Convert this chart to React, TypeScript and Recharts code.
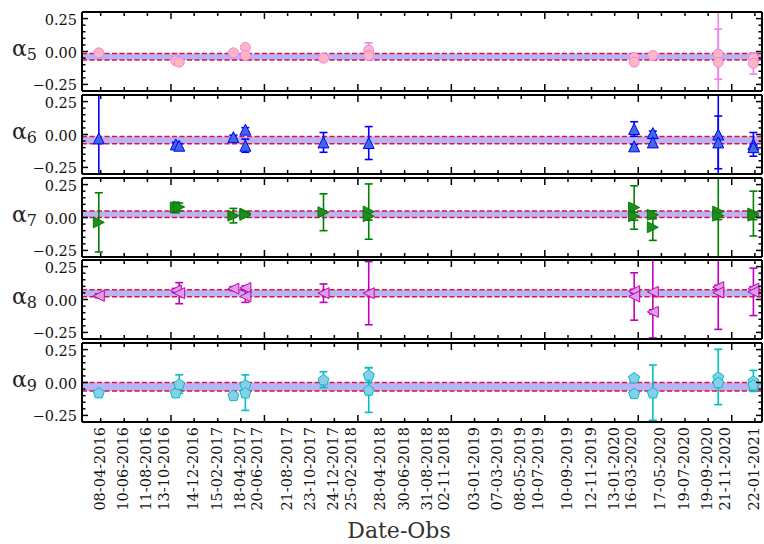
import React from 'react';
import {
  ScatterChart,
  Scatter,
  XAxis,
  YAxis,
  ErrorBar,
  ReferenceArea,
  ReferenceLine,
} from 'recharts';

// date tick labels along the shared x axis (DD-MM-YYYY)
const dateTicks = [
  '08-04-2016', '10-06-2016', '11-08-2016', '13-10-2016', '14-12-2016',
  '15-02-2017', '18-04-2017', '20-06-2017', '21-08-2017', '23-10-2017',
  '24-12-2017', '25-02-2018', '28-04-2018', '30-06-2018', '31-08-2018',
  '02-11-2018', '03-01-2019', '07-03-2019', '08-05-2019', '10-07-2019',
  '10-09-2019', '12-11-2019', '13-01-2020', '16-03-2020', '17-05-2020',
  '19-07-2020', '19-09-2020', '21-11-2020', '22-01-2021',
];

const yMajor = [-0.25, 0, 0.25];
const yMinor = [-0.2, -0.15, -0.1, -0.05, 0.05, 0.1, 0.15, 0.2];

// alpha_5
const a5Dates = ['03-04-2016', '26-10-2016', '04-11-2016', '29-03-2017', '30-04-2017', '30-04-2017', '25-11-2017', '26-03-2018', '26-03-2018', '05-03-2020', '05-03-2020', '24-04-2020', '16-10-2020', '16-10-2020', '18-01-2021', '18-01-2021'];
const a5Vals = [-0.01, -0.071, -0.081, -0.01, 0.031, -0.03, -0.051, 0.01, -0.03, -0.046, -0.081, -0.03, -0.02, -0.081, -0.051, -0.091];
const a5Errs = [0.015, 0.015, 0.015, 0.015, 0.015, 0.015, 0.015, 0.055, 0.02, 0.015, 0.015, 0.015, 0.19, 0.5, 0.02, 0.08];

// alpha_6
const a6Dates = ['03-04-2016', '26-10-2016', '04-11-2016', '29-03-2017', '30-04-2017', '30-04-2017', '25-11-2017', '26-03-2018', '05-03-2020', '05-03-2020', '24-04-2020', '24-04-2020', '16-10-2020', '16-10-2020', '18-01-2021', '18-01-2021'];
const a6Vals = [-0.03, -0.075, -0.085, -0.02, 0.037, -0.085, -0.06, -0.065, 0.042, -0.09, 0.011, -0.06, 0.0, -0.06, -0.075, -0.096];
const a6Errs = [0.5, 0.015, 0.015, 0.015, 0.015, 0.05, 0.075, 0.125, 0.055, 0.015, 0.015, 0.03, 0.5, 0.2, 0.09, 0.02];

// alpha_7
const a7Dates = ['03-04-2016', '26-10-2016', '04-11-2016', '29-03-2017', '30-04-2017', '30-04-2017', '25-11-2017', '26-03-2018', '26-03-2018', '05-03-2020', '05-03-2020', '24-04-2020', '24-04-2020', '16-10-2020', '16-10-2020', '18-01-2021', '18-01-2021'];
const a7Vals = [-0.037, 0.076, 0.08, 0.014, 0.03, 0.02, 0.04, 0.045, 0.01, 0.076, 0.01, 0.02, -0.074, 0.045, 0.014, 0.03, 0.014];
const a7Errs = [0.225, 0.04, 0.03, 0.055, 0.015, 0.015, 0.14, 0.21, 0.03, 0.165, 0.03, 0.03, 0.1, 0.5, 0.03, 0.17, 0.03];

// alpha_8
const a8Dates = ['03-04-2016', '26-10-2016', '04-11-2016', '29-03-2017', '30-04-2017', '30-04-2017', '25-11-2017', '26-03-2018', '05-03-2020', '05-03-2020', '24-04-2020', '24-04-2020', '16-10-2020', '16-10-2020', '18-01-2021', '18-01-2021'];
const a8Vals = [0.028, 0.069, 0.048, 0.083, 0.088, 0.023, 0.048, 0.048, 0.063, 0.023, 0.058, -0.094, 0.094, 0.053, 0.083, 0.058];
const a8Errs = [0.015, 0.015, 0.08, 0.015, 0.015, 0.045, 0.07, 0.24, 0.015, 0.18, 0.35, 0.015, 0.015, 0.28, 0.015, 0.18];

// alpha_9
const a9Dates = ['03-04-2016', '26-10-2016', '04-11-2016', '29-03-2017', '30-04-2017', '30-04-2017', '25-11-2017', '26-03-2018', '26-03-2018', '05-03-2020', '05-03-2020', '24-04-2020', '16-10-2020', '16-10-2020', '18-01-2021', '18-01-2021'];
const a9Vals = [-0.077, -0.077, -0.012, -0.097, -0.017, -0.077, 0.022, 0.057, -0.057, 0.037, -0.082, -0.077, 0.042, 0.0, 0.012, -0.017];
const a9Errs = [0.015, 0.015, 0.07, 0.015, 0.015, 0.135, 0.06, 0.055, 0.17, 0.015, 0.015, 0.21, 0.21, 0.015, 0.08, 0.015];

// mean +/- spread band for each coefficient
const bandLow = [-0.065, -0.07, 0.0, 0.02, -0.065];
const bandHigh = [-0.015, -0.015, 0.05, 0.075, 0.0];
const subscripts = ['5', '6', '7', '8', '9'];

const FONT = 'DejaVu Serif';
const CHART_W = 764;
const PLOT_LEFT = 82;
const PLOT_RIGHT = 762;
const PANEL_TOP = 12;
const PANEL_STEP = 82.75;
const PANEL_H = 79;
const EDGE = 1; // room for the top/bottom/right axes so they get drawn
const X_DOMAIN: [number, number] = [-50, 1769];
const Y_DOMAIN: [number, number] = [-0.3, 0.3];

const BASE = Date.UTC(2016, 3, 8);
const toDay = (s: string) => {
  const [d, m, y] = s.split('-').map(Number);
  return (Date.UTC(y, m - 1, d) - BASE) / 86400000;
};

const xTickVals = dateTicks.map(toDay);
const yTickVals = [...yMajor, ...yMinor].sort((a, b) => a - b);

const rows = (dates: string[], vals: number[], errs: number[]) =>
  dates.map((d, i) => ({ x: toDay(d), y: vals[i], err: errs[i] }));

const fmtY = (v: number) => (v < 0 ? '\u2212' : '') + Math.abs(v).toFixed(2);

type MarkerKind = 'circle' | 'up' | 'right' | 'left' | 'pentagon';

function makeMarker(kind: MarkerKind, fill: string, edge: string) {
  return (props: any) => {
    const { cx, cy } = props;
    if (cx == null || cy == null) return <g />;
    const s = 5.5;
    if (kind === 'circle') {
      return <circle cx={cx} cy={cy} r={5} fill={fill} stroke={edge} strokeWidth={1} />;
    }
    let pts: number[][];
    if (kind === 'up') pts = [[0, -s], [-s, s], [s, s]];
    else if (kind === 'right') pts = [[s, 0], [-s, -s], [-s, s]];
    else if (kind === 'left') pts = [[-s, 0], [s, -s], [s, s]];
    else {
      pts = [0, 1, 2, 3, 4].map((k) => {
        const a = -Math.PI / 2 + (k * 2 * Math.PI) / 5;
        return [Math.cos(a) * 5.8, Math.sin(a) * 5.8 + 0.6];
      });
    }
    const d = pts.map(([px, py]) => `${cx + px},${cy + py}`).join(' ');
    return <polygon points={d} fill={fill} stroke={edge} strokeWidth={1} />;
  };
}

const noMarker = () => <g />;

function makeXTick(side: 'top' | 'bottom', withLabels: boolean) {
  return (props: any) => {
    const { x, y, payload } = props;
    const i = xTickVals.indexOf(payload.value);
    const major = i % 4 === 3;
    const len = major ? 7 : 4;
    const dir = side === 'bottom' ? -1 : 1;
    return (
      <g>
        <line x1={x} x2={x} y1={y} y2={y + dir * len} stroke="#000" strokeWidth={1.5} />
        {withLabels && (
          <text
            transform={`translate(${x - (major ? 7 : 1)},${y + 5}) rotate(-90)`}
            textAnchor="end"
            dominantBaseline="central"
            fontFamily={FONT}
            fontSize={14.5}
            fill="#111"
          >
            {dateTicks[i]}
          </text>
        )}
      </g>
    );
  };
}

function makeYTick(side: 'left' | 'right', sub?: string) {
  return (props: any) => {
    const { x, y, payload } = props;
    const v = payload.value;
    const major = yMajor.includes(v);
    const len = major ? 6 : 3.5;
    const dir = side === 'left' ? 1 : -1;
    return (
      <g>
        <line x1={x} x2={x + dir * len} y1={y} y2={y} stroke="#000" strokeWidth={1.5} />
        {side === 'left' && major && (
          <text x={x - 5} y={y} dy={1} textAnchor="end" dominantBaseline="central" fontFamily={FONT} fontSize={14.5} fill="#111">
            {fmtY(v)}
          </text>
        )}
        {side === 'left' && v === 0 && sub && (
          <text x={12} y={y + 4} fontFamily={FONT} fontSize={22} fill="#222">
            α<tspan fontSize={16} dy={4}>{sub}</tspan>
          </text>
        )}
      </g>
    );
  };
}

interface PanelProps {
  idx: number;
  data: { x: number; y: number; err: number }[];
  marker: MarkerKind;
  fill: string;
  edge: string;
  bar: string;
}

function Panel({ idx, data, marker, fill, edge, bar }: PanelProps) {
  const top = PANEL_TOP + idx * PANEL_STEP;
  const last = idx === 4;
  const chartTop = top - EDGE;
  const h = last ? 544 - chartTop : PANEL_H + 2 * EDGE;
  const axisLine = { stroke: '#000', strokeWidth: 2 };
  return (
    <div style={{ position: 'absolute', left: 0, top: chartTop }}>
      <ScatterChart
        width={CHART_W}
        height={h}
        margin={{ top: 0, right: CHART_W - PLOT_RIGHT - EDGE, bottom: 0, left: 0 }}
      >
        <XAxis
          type="number"
          dataKey="x"
          domain={X_DOMAIN}
          allowDataOverflow
          ticks={xTickVals}
          interval={0}
          height={last ? h - EDGE - PANEL_H : EDGE}
          tickSize={0}
          tickMargin={0}
          tickLine={false}
          axisLine={axisLine}
          tick={makeXTick('bottom', last)}
          label={
            last
              ? {
                  content: () => (
                    <text x={399} y={538 - chartTop} textAnchor="middle" fontFamily={FONT} fontSize={22} fill="#333">
                      Date-Obs
                    </text>
                  ),
                }
              : undefined
          }
        />
        <XAxis
          xAxisId="top"
          orientation="top"
          type="number"
          dataKey="x"
          domain={X_DOMAIN}
          allowDataOverflow
          ticks={xTickVals}
          interval={0}
          height={EDGE}
          tickSize={0}
          tickMargin={0}
          tickLine={false}
          axisLine={axisLine}
          tick={makeXTick('top', false)}
        />
        <YAxis
          type="number"
          dataKey="y"
          width={PLOT_LEFT}
          domain={Y_DOMAIN}
          allowDataOverflow
          ticks={yTickVals}
          interval={0}
          tickSize={0}
          tickMargin={0}
          tickLine={false}
          axisLine={axisLine}
          tick={makeYTick('left', subscripts[idx])}
        />
        <YAxis
          yAxisId="right"
          orientation="right"
          type="number"
          dataKey="y"
          width={EDGE}
          domain={Y_DOMAIN}
          allowDataOverflow
          ticks={yTickVals}
          interval={0}
          tickSize={0}
          tickMargin={0}
          tickLine={false}
          axisLine={axisLine}
          tick={makeYTick('right')}
        />
        <ReferenceArea y1={bandLow[idx]} y2={bandHigh[idx]} fill="#bab4f6" fillOpacity={1} stroke="none" />
        <ReferenceLine y={bandLow[idx]} stroke="#dc143c" strokeWidth={1.5} strokeDasharray="5 2.5" />
        <ReferenceLine y={bandHigh[idx]} stroke="#dc143c" strokeWidth={1.5} strokeDasharray="5 2.5" />
        {/* error bars go on the twin (top/right) axes, drawn before the markers */}
        <Scatter xAxisId="top" yAxisId="right" data={data} shape={noMarker} isAnimationActive={false}>
          <ErrorBar dataKey="err" direction="y" width={4} stroke={bar} strokeWidth={1.6} />
        </Scatter>
        <Scatter data={data} shape={makeMarker(marker, fill, edge)} isAnimationActive={false} />
      </ScatterChart>
    </div>
  );
}

export default function App() {
  return (
    <div style={{ position: 'absolute', left: 0, top: 0, width: 764, height: 544, background: '#fff' }}>
      <Panel idx={0} data={rows(a5Dates, a5Vals, a5Errs)} marker="circle" fill="#ffb6c1" edge="#ee82ee" bar="#ee82ee" />
      <Panel idx={1} data={rows(a6Dates, a6Vals, a6Errs)} marker="up" fill="#4169e1" edge="#0000ff" bar="#0000ff" />
      <Panel idx={2} data={rows(a7Dates, a7Vals, a7Errs)} marker="right" fill="#228b22" edge="#008000" bar="#008000" />
      <Panel idx={3} data={rows(a8Dates, a8Vals, a8Errs)} marker="left" fill="#dda0dd" edge="#c000c0" bar="#c000c0" />
      <Panel idx={4} data={rows(a9Dates, a9Vals, a9Errs)} marker="pentagon" fill="#87ceeb" edge="#00bfbf" bar="#00bfbf" />
    </div>
  );
}
